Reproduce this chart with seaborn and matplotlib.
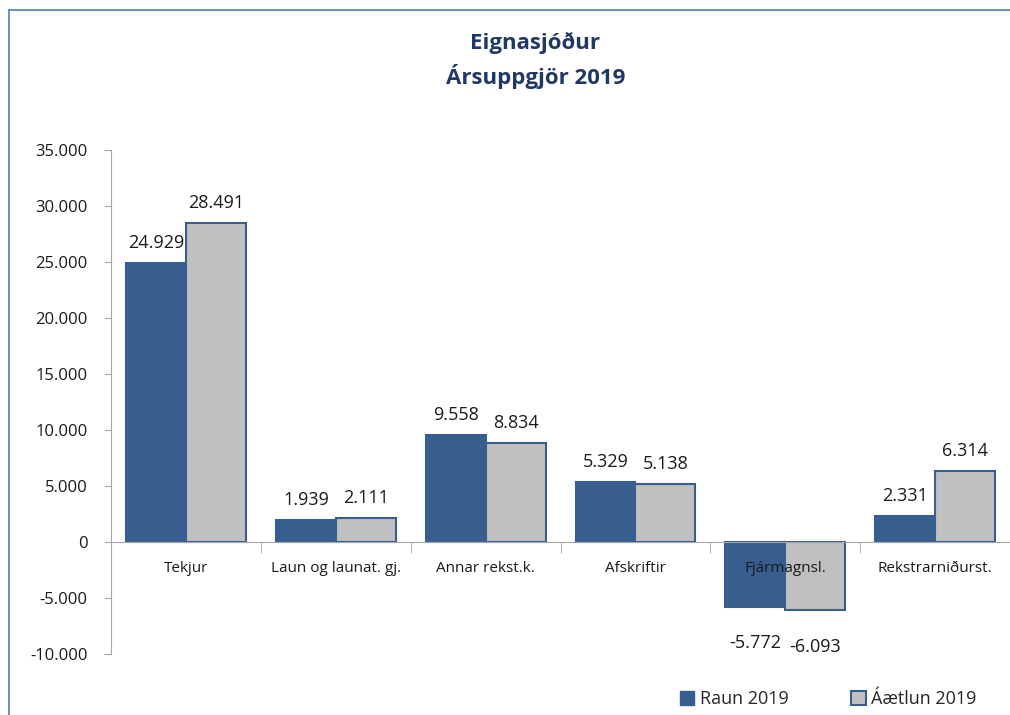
import pandas as pd
import matplotlib.pyplot as plt
import seaborn as sns
from matplotlib.patches import Rectangle
from matplotlib.ticker import FuncFormatter, FixedLocator

flokkar = ['Tekjur', 'Laun og launat. gj.', 'Annar rekst.k.', 'Afskriftir',
           'Fjármagnsl.', 'Rekstrarniðurst.']
raun = [24929, 1939, 9558, 5329, -5772, 2331]
aaetlun = [28491, 2111, 8834, 5138, -6093, 6314]
radir = ['Raun 2019', 'Áætlun 2019']

df = pd.DataFrame({
    'flokkur': flokkar * 2,
    'gildi': raun + aaetlun,
    'roð': [radir[0]] * len(flokkar) + [radir[1]] * len(flokkar),
})

sns.set_style('white')
plt.rcParams['font.family'] = ['Open Sans', 'DejaVu Sans']

def isl(x):
    # íslenskur þúsundaskilnaður
    return f'{x:,.0f}'.replace(',', '.')

fig = plt.figure(figsize=(10.1, 7.15), dpi=100)
ax = fig.add_axes([0.110, 0.0853, 0.89, 0.7049])

dokk = '#375E8F'
sns.barplot(data=df, x='flokkur', y='gildi', hue='roð', hue_order=radir,
            palette=[dokk, '#C0C0C0'], saturation=1, width=0.8, ax=ax,
            legend=False)

for bar in ax.patches:
    bar.set_edgecolor(dokk)
    bar.set_linewidth(1.5)
    bar.set_zorder(1)

for cont in ax.containers:
    jak = [(isl(v) if v >= 0 else '') for v in cont.datavalues]
    neik = [(isl(v) if v < 0 else '') for v in cont.datavalues]
    ax.bar_label(cont, labels=jak, padding=8, fontsize=13, color='#1a1a1a')
    ax.bar_label(cont, labels=neik, padding=20, fontsize=13, color='#1a1a1a')

ax.set_ylim(-10000, 35000)
ax.set_yticks(range(-10000, 35001, 5000))
ax.yaxis.set_major_formatter(FuncFormatter(lambda v, p: isl(v)))
ax.set_xlim(-0.5, len(flokkar) - 0.5)
ax.set_axisbelow(False)

ax.spines['bottom'].set_position(('data', 0))
for s in ['top', 'right']:
    ax.spines[s].set_visible(False)
ax.spines['left'].set_color('#A6A6A6')
ax.spines['bottom'].set_color('#A6A6A6')

ax.set_xlabel('')
ax.set_ylabel('')
ax.tick_params(axis='y', left=True, length=5, color='#A6A6A6', labelsize=12,
               labelcolor='#1a1a1a', pad=12)
ax.tick_params(axis='x', which='major', length=0, labelsize=11,
               labelcolor='#1a1a1a', pad=14)
ax.xaxis.set_minor_locator(FixedLocator([i + 0.5 for i in range(len(flokkar) - 1)]))
ax.tick_params(axis='x', which='minor', bottom=True, length=8, color='#A6A6A6')

fig.suptitle('Eignasjóður\nÁrsuppgjör 2019', x=0.53, y=0.955, fontsize=16,
             fontweight='bold', color='#1F3864', linespacing=1.5)

hnd = [Rectangle((0, 0), 1, 1, facecolor=dokk, edgecolor=dokk),
       Rectangle((0, 0), 1, 1, facecolor='#C0C0C0', edgecolor=dokk, linewidth=1.5)]
fig.legend(hnd, radir, loc='center', bbox_to_anchor=(0.82, 0.022), ncol=2,
           frameon=False, fontsize=13, handlelength=0.8, handleheight=0.8,
           handletextpad=0.3, columnspacing=3.5)

fig.patches.append(Rectangle((9 / 1010, -0.05), 1.2, 1.05 - 10 / 715,
                             transform=fig.transFigure, fill=False,
                             edgecolor='#4A7EBB', linewidth=1.2))

fig.savefig('out.png', dpi=100)
